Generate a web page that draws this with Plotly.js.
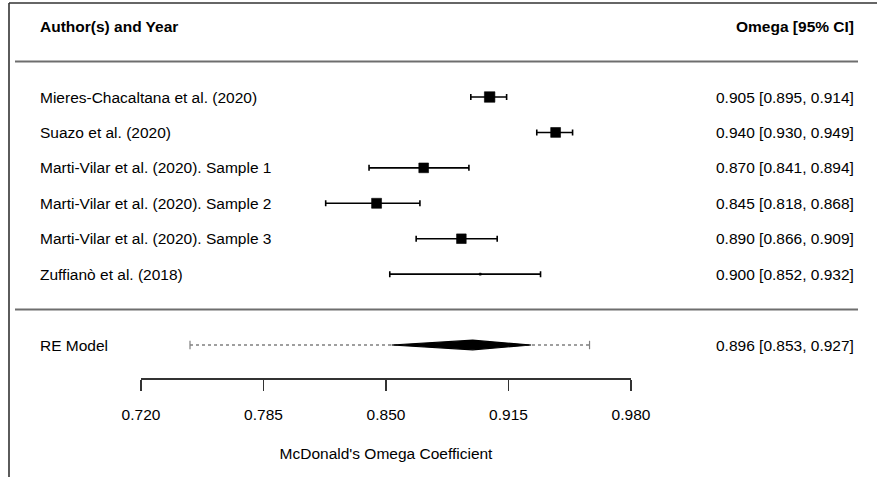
<!DOCTYPE html>
<html>
<head>
<meta charset="utf-8">
<script src="https://cdn.plot.ly/plotly-3.0.1.min.js"></script>
<style>
html,body{margin:0;padding:0;background:#fff;}
#chart{width:877px;height:477px;}
</style>
</head>
<body>
<div id="chart"></div>
<script>
// ---- data ----
const studies = [
  "Mieres-Chacaltana et al. (2020)",
  "Suazo et al. (2020)",
  "Marti-Vilar et al. (2020). Sample 1",
  "Marti-Vilar et al. (2020). Sample 2",
  "Marti-Vilar et al. (2020). Sample 3",
  "Zuffianò et al. (2018)"
];
const omega   = [0.905, 0.940, 0.870, 0.845, 0.890, 0.900];
const ciLower = [0.895, 0.930, 0.841, 0.818, 0.866, 0.852];
const ciUpper = [0.914, 0.949, 0.894, 0.868, 0.909, 0.932];
const weights = [18.4, 17.8, 17.7, 17.9, 17.6, 10.6];   // estimated relative weights (%)
const reLabel = "RE Model";
const reEstimate = 0.896;
const reLower = 0.853;
const reUpper = 0.927;
const piLower = 0.746;   // prediction interval (dotted line)
const piUpper = 0.958;
const tickValues = [0.720, 0.785, 0.850, 0.915, 0.980];
const tickLabels = ["0.720", "0.785", "0.850", "0.915", "0.980"];
const headerLeft = "Author(s) and Year";
const headerRight = "Omega [95% CI]";
const axisTitle = "McDonald's Omega Coefficient";

// ---- layout geometry ----
const W = 877, H = 477;
const PL = 141, PR = 631, PT = 0, PB = 378;   // plot area in pixels
const rowPx0 = 97, rowStep = 35.43;           // pixel centre of first row, row spacing
const yTop = (PT - rowPx0) / rowStep;
const yBot = (PB - rowPx0) / rowStep;
const px = p => (p - PL) / (PR - PL);          // pixel -> paper x
const py = p => (PB - p) / (PB - PT);          // pixel -> paper y
const FONT = "Liberation Sans, Arial, sans-serif";
const FS = 15.5;

const rows = studies.map((s, i) => i);
const headerRow = -2, line1Row = -1, line2Row = studies.length, reRow = studies.length + 1;

const fmt = v => v.toFixed(3);
const wMin = Math.min(...weights), wMax = Math.max(...weights);
const sizes = weights.map(w => 2 + (w - wMin) / (wMax - wMin) * 8.5);

const traces = [];
// prediction interval dotted line
traces.push({
  type: "scatter", mode: "lines",
  x: [piLower, piUpper], y: [reRow, reRow],
  line: {color: "#808080", width: 1.5, dash: "dot"},
  hoverinfo: "skip", showlegend: false
});
traces.push({
  type: "scatter", mode: "markers",
  x: [piLower, piUpper], y: [reRow, reRow],
  marker: {symbol: "line-ns", size: 6, line: {color: "#808080", width: 1.2}},
  hoverinfo: "skip", showlegend: false
});
// RE polygon (diamond)
const hh = 4.8 / rowStep;
traces.push({
  type: "scatter", mode: "lines", fill: "toself",
  x: [reLower, reEstimate, reUpper, reEstimate, reLower],
  y: [reRow, reRow - hh, reRow, reRow + hh, reRow],
  line: {color: "#000", width: 1.2}, fillcolor: "#000",
  hoverinfo: "skip", showlegend: false
});
// study estimates
traces.push({
  type: "scatter", mode: "markers",
  x: omega, y: rows,
  marker: {symbol: "square", size: sizes, color: "#000", opacity: 1, line: {width: 0.6, color: "#000"}},
  error_x: {
    type: "data", symmetric: false,
    array: ciUpper.map((u, i) => u - omega[i]),
    arrayminus: ciLower.map((l, i) => omega[i] - l),
    color: "#000", thickness: 1.6, width: 3
  },
  opacity: 1,
  hoverinfo: "skip", showlegend: false
});

const ann = [];
const txt = (text, x, xanchor, y, bold) => ann.push({
  text: bold ? "<b>" + text + "</b>" : text,
  xref: "paper", x: px(x), xanchor: xanchor,
  yref: "y", y: y, yanchor: "middle",
  showarrow: false, font: {family: FONT, size: FS, color: "#000"}
});
txt(headerLeft, 38, "left", headerRow, true);
txt(headerRight, 856, "right", headerRow, true);
studies.forEach((s, i) => {
  txt(s, 38, "left", rows[i], false);
  txt(fmt(omega[i]) + " [" + fmt(ciLower[i]) + ", " + fmt(ciUpper[i]) + "]", 856, "right", rows[i], false);
});
txt(reLabel, 38, "left", reRow, false);
txt(fmt(reEstimate) + " [" + fmt(reLower) + ", " + fmt(reUpper) + "]", 856, "right", reRow, false);

const shapes = [
  // separator lines
  {type: "line", xref: "paper", yref: "y", x0: px(15), x1: px(858), y0: line1Row, y1: line1Row,
   line: {color: "#6e6e6e", width: 2}},
  {type: "line", xref: "paper", yref: "y", x0: px(15), x1: px(858), y0: line2Row, y1: line2Row,
   line: {color: "#6e6e6e", width: 2}},
  // outer frame (top and left)
  {type: "line", xref: "paper", yref: "paper", x0: px(9), x1: px(W + 2), y0: py(3), y1: py(3),
   line: {color: "#333", width: 1.6}},
  {type: "line", xref: "paper", yref: "paper", x0: px(9), x1: px(9), y0: py(3), y1: py(H + 2),
   line: {color: "#333", width: 1.6}}
];

const layout = {
  width: W, height: H,
  margin: {l: PL, r: W - PR, t: PT, b: H - PB, pad: 0},
  paper_bgcolor: "#fff", plot_bgcolor: "rgba(0,0,0,0)",
  showlegend: false,
  xaxis: {
    range: [tickValues[0], tickValues[tickValues.length - 1]],
    tickmode: "array", tickvals: tickValues, ticktext: tickLabels,
    ticks: "outside", ticklen: 11, tickwidth: 1.5, tickcolor: "#333",
    showline: true, linecolor: "#333", linewidth: 1.5,
    showgrid: false, zeroline: false, fixedrange: true,
    ticklabelstandoff: 11,
    tickfont: {family: FONT, size: FS, color: "#000"},
    title: {text: axisTitle, font: {family: FONT, size: FS, color: "#000"}, standoff: 26}
  },
  yaxis: {
    range: [yBot, yTop], visible: false, fixedrange: true
  },
  shapes: shapes,
  annotations: ann
};

Plotly.newPlot("chart", traces, layout, {displayModeBar: false, staticPlot: true});
</script>
</body>
</html>
